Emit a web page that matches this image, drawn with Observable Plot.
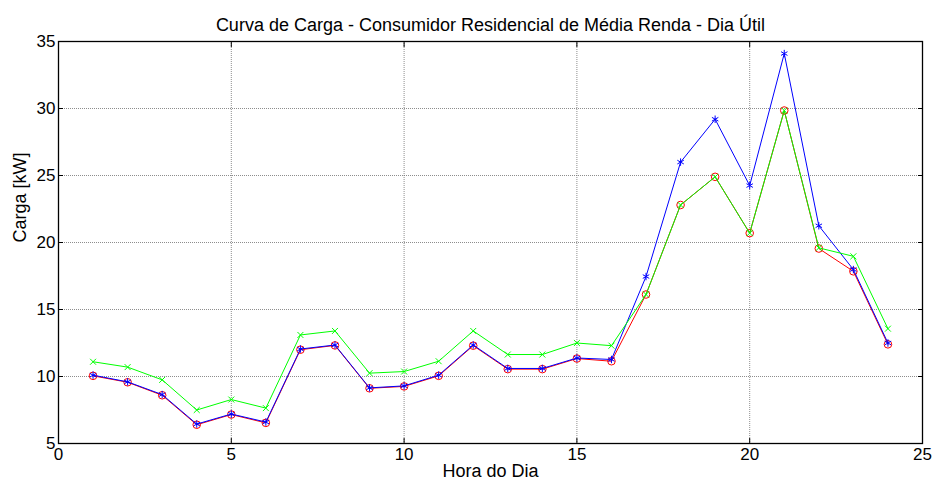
<!DOCTYPE html>
<html><head><meta charset="utf-8">
<script src="https://cdn.jsdelivr.net/npm/d3@7"></script>
<script src="https://cdn.jsdelivr.net/npm/@observablehq/plot@0.6"></script>
<style>body{margin:0;background:#fff;font-family:"Liberation Sans",Arial,sans-serif}</style>
</head><body><div id="chart"></div>
<script>
const hours = [1,2,3,4,5,6,7,8,9,10,11,12,13,14,15,16,17,18,19,20,21,22,23,24];
const blue  = [10.1,9.6,8.65,6.45,7.2,6.6,12.05,12.35,9.15,9.3,10.1,12.35,10.6,10.6,11.38,11.27,17.46,26.0,29.2,24.25,34.1,21.25,17.98,12.5];
const red   = [10.05,9.57,8.6,6.4,7.16,6.54,12.0,12.32,9.12,9.26,10.05,12.3,10.55,10.55,11.34,11.14,16.12,22.8,24.9,20.7,29.85,19.55,17.85,12.4];
const green = [11.1,10.7,9.75,7.5,8.28,7.64,13.1,13.4,10.25,10.37,11.14,13.4,11.64,11.64,12.5,12.3,16.12,22.8,24.9,20.7,29.85,19.6,18.97,13.57];
const xTicks = [0,5,10,15,20,25];
const yTicks = [5,10,15,20,25,30,35];

const mk = (arr) => hours.map((h,i)=>({h, v: arr[i]}));
const R = mk(red), B = mk(blue), G = mk(green);

const chart = Plot.plot({
  width: 935, height: 488,
  marginLeft: 58, marginRight: 13, marginTop: 41, marginBottom: 45,
  style: {fontFamily: '"Liberation Sans", Arial, sans-serif', fontSize: "17px", color: "#000", background: "#fff"},
  x: {domain: [0,25]},
  y: {domain: [5,35]},
  marks: [
    Plot.gridX(xTicks.slice(1,-1), {stroke: "#707070", strokeOpacity: 0.8, strokeDasharray: "1,1"}),
    Plot.gridY(yTicks.slice(1,-1), {stroke: "#707070", strokeOpacity: 0.8, strokeDasharray: "1,1"}),
    Plot.frame({stroke: "#000", strokeWidth: 1.3}),
    Plot.axisX(xTicks, {anchor: "bottom", tickSize: -5, tickPadding: 9, label: null, fontSize: 17}),
    Plot.axisX(xTicks, {anchor: "top", tickSize: -5, text: null, label: null}),
    Plot.axisY(yTicks, {anchor: "left", tickSize: -5, tickPadding: 8, label: null, fontSize: 17}),
    Plot.axisY(yTicks, {anchor: "right", tickSize: -5, text: null, label: null}),
    Plot.line(R, {x: "h", y: "v", stroke: "#ff0000", strokeWidth: 1}),
    Plot.dot(R, {x: "h", y: "v", stroke: "#ff0000", r: 3.8, symbol: "circle", strokeWidth: 1}),
    Plot.line(B, {x: "h", y: "v", stroke: "#0000ff", strokeWidth: 1}),
    Plot.dot(B, {x: "h", y: "v", stroke: "#0000ff", r: 3.5, symbol: "asterisk", strokeWidth: 1}),
    Plot.line(G, {x: "h", y: "v", stroke: "#00ff00", strokeWidth: 1}),
    Plot.dot(G, {x: "h", y: "v", stroke: "#00ff00", r: 2.8, symbol: "times", strokeWidth: 1}),
    Plot.text(["Curva de Carga - Consumidor Residencial de Média Renda - Dia Útil"], {frameAnchor: "top", dy: -23, fontSize: 18, fill: "#000"}),
    Plot.text(["Hora do Dia"], {frameAnchor: "bottom", dy: 33, fontSize: 18, fill: "#000"}),
    Plot.text(["Carga [kW]"], {frameAnchor: "left", dx: -38, rotate: -90, fontSize: 18, fill: "#000"})
  ]
});
document.getElementById("chart").appendChild(chart);
</script></body></html>
